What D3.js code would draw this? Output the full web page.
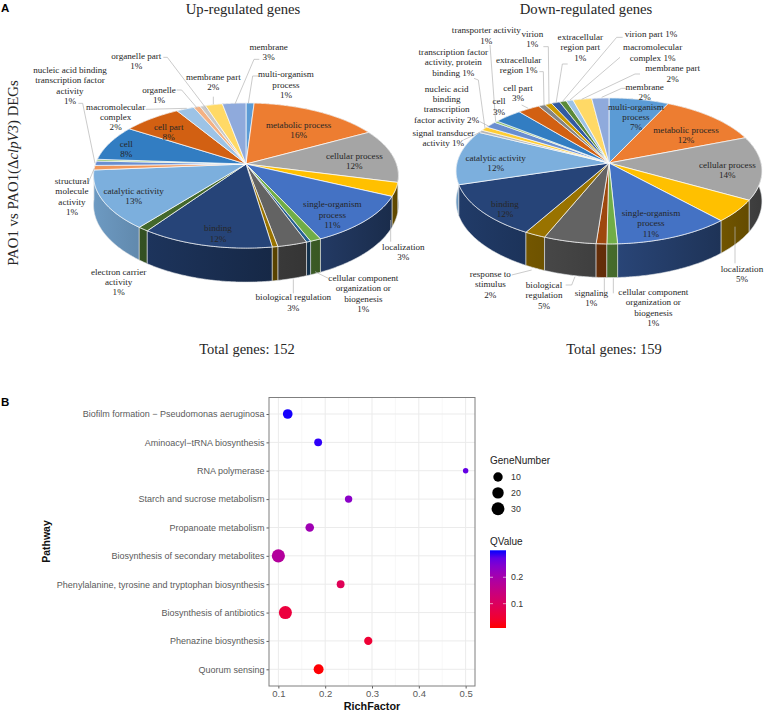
<!DOCTYPE html>
<html><head><meta charset="utf-8">
<script src="https://cdn.jsdelivr.net/npm/d3@7"></script>
<style>html,body{margin:0;padding:0;background:#fff}svg{display:block}</style>
</head><body><svg id="c" width="764" height="711"></svg>
<script>
// ---------- Data: up-regulated pie ----------
const upSliceNames = ["multi-organism process","metabolic process","cellular process","localization","single-organism process","cellular component organization or biogenesis","other a","biological regulation","other b","binding","electron carrier activity","catalytic activity","structural molecule activity","nucleic acid binding transcription factor activity","other c","cell","cell part","macromolecular complex","organelle","organelle part","membrane part","membrane"];
const upSliceValues = [1,16,12,3,11,1,0.4,2.7,0.5,12,1,13,1,1,0.4,8,7.2,2.2,0.8,0.7,2.1,2.9];
const upSliceColors = ["#5B9BD5","#ED7D31","#A5A5A5","#FFC000","#4472C4","#70AD47","#255E91","#636363","#997300","#264478","#43682B","#7CAFDD","#F1975A","#698ED0","#8CC168","#327DC2","#D26012","#9DC3E6","#F4B183","#C9C9C9","#FFD966","#8FAADC"];
const upLabelLines = [["membrane","3%"],["multi-organism","process","1%"],["membrane part","2%"],["organelle part","1%"],["nucleic acid binding","transcription factor","activity","1%"],["organelle","1%"],["macromolecular","complex","2%"],["cell part","8%"],["cell","8%"],["metabolic process","16%"],["cellular process","12%"],["single-organism","process","11%"],["catalytic activity","13%"],["binding","12%"],["structural","molecule","activity","1%"],["electron carrier","activity","1%"],["biological regulation","3%"],["cellular component","organization or","biogenesis","1%"],["localization","3%"]];
// ---------- Data: down-regulated pie ----------
const downSliceNames = ["multi-organism process","metabolic process","cellular process","localization","single-organism process","cellular component organization or biogenesis","signaling","biological regulation","response to stimulus","binding","catalytic activity","other","signal transducer activity","nucleic acid binding transcription factor activity","transcription factor activity, protein binding","cell","cell part","extracellular region","virion","extracellular region part","virion part","macromolecular complex","membrane part","membrane"];
const downSliceValues = [7,12,14,5,11,1,1,5,2,12,12,0.6,0.9,1.4,0.4,3.3,2.6,0.8,0.8,1,0.8,0.8,2.2,2];
const downSliceColors = ["#5B9BD5","#ED7D31","#A5A5A5","#FFC000","#4472C4","#70AD47","#9E480E","#636363","#997300","#264478","#7CAFDD","#B7B7B7","#FFCD33","#698ED0","#8CC168","#327DC2","#D26012","#848484","#CC9A00","#335AA1","#5A8A39","#9DC3E6","#FFD966","#8FAADC"];
const downLabelLines = [["transporter activity","1%"],["virion","1%"],["extracellular","region part","1%"],["virion part 1%"],["macromolecular","complex 1%"],["membrane part","2%"],["membrane","2%"],["transcription factor","activity, protein","binding 1%"],["extracellular","region 1%"],["cell part","3%"],["cell","3%"],["nucleic acid","binding","transcription","factor activity 2%"],["signal transducer","activity 1%"],["multi-organism","process","7%"],["metabolic process","12%"],["cellular process","14%"],["catalytic activity","12%"],["binding","12%"],["single-organism","process","11%"],["localization","5%"],["response to","stimulus","2%"],["biological","regulation","5%"],["signaling","1%"],["cellular component","organization or","biogenesis","1%"]];
// ---------- Data: bubble chart ----------
const pathways = ["Biofilm formation − Pseudomonas aeruginosa","Aminoacyl−tRNA biosynthesis","RNA polymerase","Starch and sucrose metabolism","Propanoate metabolism","Biosynthesis of secondary metabolites","Phenylalanine, tyrosine and tryptophan biosynthesis","Biosynthesis of antibiotics","Phenazine biosynthesis","Quorum sensing"];
const richFactor = [0.12,0.185,0.5,0.25,0.167,0.1,0.233,0.115,0.292,0.186];
const geneNumber = [11,5,2,4,7,32,5,31,6,12];
const qValue = [0.3,0.295,0.27,0.235,0.21,0.18,0.09,0.06,0.05,0.01];
const sizeLegendValues = [10,20,30];
const colorLegendTicks = [0.2,0.1];
const richTicks = [0.1,0.2,0.3,0.4,0.5];

// ---------- Layout (page px, separate from the data) ----------
const upLabelAnchor = [[806,141],[858,223],[640,230],[409,168],[210,210],[477,269],[347,320],[506,381],[379,432],[896,375],[1063,468],[997,613],[401,572],[654,685],[216,543],[356,815],[880,892],[1090,834],[1210,741]];
const downLabelAnchor = [[259,91],[397,102],[541,111],[753,103],[758,142],[818,205],[734,261],[160,156],[356,179],[354,264],[297,304],[140,266],[130,399],[708,320],[858,389],[982,495],[287,474],[315,611],[753,639],[1026,806],[271,822],[432,855],[574,878],[760,876]];
const upLeaders = [[[490,172],[502,172],[622,330]],[[235,310],[248,310],[285,490]],[[530,270],[545,270],[592,325]],[[437,328],[560,325]],[[640,290],[640,313]],[[778,178],[762,178],[705,312]],[[775,228],[758,228],[745,310]],[[283,505],[265,548]],[[880,838],[880,880]],[[945,815],[985,835]],[[1172,660],[1172,725]]];
const downLeaders = [[[270,135],[287,365]],[[430,140],[445,140],[447,312]],[[503,192],[487,192],[468,310]],[[668,112],[650,112],[487,305]],[[660,172],[510,300]],[[720,222],[705,222],[545,298]],[[680,265],[665,265],[605,292]],[[222,235],[235,240],[255,385]],[[418,215],[430,215],[432,315]],[[365,315],[385,325]],[[240,365],[265,378]],[[190,420],[240,397]],[[1005,680],[1005,790]],[[335,825],[395,810]],[[497,855],[515,855],[525,830]],[[613,835],[613,880]],[[640,835],[640,880]]];

const svg = d3.select("#c");
const SERIF = "'Liberation Serif',serif", SANS = "'Liberation Sans',sans-serif";

function drawPie(o){
  const g = svg.append("g");
  const pieGen = d3.pie().sort(null).value(d=>d.v);
  const items = o.values.map((v,i)=>({v,c:o.colors[i],n:o.names[i]}));
  const arcs = pieGen(items);
  const proj = a=>{
    const u=Math.sin(a), v=-Math.cos(a), s=1/(1-o.p*v);
    return {x:o.cx+o.rx*u*s, y:o.cy+o.ry*v*s, s, u};
  };
  const rim = (a0,a1)=>d3.range(0,Math.ceil((a1-a0)/0.01)+1).map(i=>proj(Math.min(a1,a0+i*0.01)));
  const line = d3.line().x(d=>d[0]).y(d=>d[1]);
  const defs = svg.append("defs");
  const shade = (c,u)=>{const k=0.62-0.26*u, q=d3.rgb(c);return d3.rgb(q.r*k,q.g*k,q.b*k).formatHex();};
  const order = arcs.map((a,i)=>({a,i,mid:-Math.cos((a.startAngle+a.endAngle)/2)})).sort((p,q)=>p.mid-q.mid);
  order.forEach(({a,i})=>{
    const id=o.id+"w"+i;
    const r=rim(a.startAngle,a.endAngle);
    const ul=d3.min(r,p=>p.u), ur=d3.max(r,p=>p.u);
    const lg=defs.append("linearGradient").attr("id",id).attr("x1",0).attr("x2",1).attr("y1",0).attr("y2",0);
    lg.append("stop").attr("offset",0).attr("stop-color",shade(a.data.c,ul));
    lg.append("stop").attr("offset",1).attr("stop-color",shade(a.data.c,ur));
    const top=r.map(p=>[p.x,p.y]);
    const bot=r.slice().reverse().map(p=>[p.x,p.y+o.depth*p.s]);
    g.append("path").attr("d",line(top.concat(bot))+"Z").attr("fill",`url(#${id})`)
      .attr("stroke","#dfe3e6").attr("stroke-width",0.6);
  });
  arcs.forEach(a=>{
    const r=rim(a.startAngle,a.endAngle).map(p=>[p.x,p.y]);
    g.append("path").attr("d",line([[o.cx,o.cy]].concat(r))+"Z").attr("fill",a.data.c)
      .attr("stroke","#fff").attr("stroke-width",0.7).attr("stroke-linejoin","round");
  });
  o.leaders.forEach(l=>{
    g.append("path").attr("d",line(l.map(p=>[o.ox+p[0]/3,p[1]/3]))).attr("fill","none")
      .attr("stroke","#b4b4b4").attr("stroke-width",0.7);
  });
  o.labels.forEach((lines,i)=>{
    const [zx,zy]=o.anchors[i];
    const t=g.append("text").attr("font-family",SERIF).attr("font-size",o.fs).attr("fill","#262626").attr("text-anchor","middle");
    lines.forEach((s,j)=>{
      t.append("tspan").attr("x",o.ox+zx/3).attr("y",zy/3+3+j*10.4).text(s);
    });
  });
}
drawPie({id:"u",cx:246,cy:164,rx:150.5,ry:70.7,p:0.159,depth:28.6,values:upSliceValues,colors:upSliceColors,names:upSliceNames,labels:upLabelLines,anchors:upLabelAnchor,leaders:upLeaders,ox:0,fs:9.1});
drawPie({id:"d",cx:609,cy:163,rx:152,ry:72.1,p:0.109,depth:30,values:downSliceValues,colors:downSliceColors,names:downSliceNames,labels:downLabelLines,anchors:downLabelAnchor,leaders:downLeaders,ox:400,fs:9.1});

const txt=(x,y,s,fs,fam,anchor="middle",w="normal",fill="#262626")=>svg.append("text").attr("x",x).attr("y",y).attr("font-size",fs).attr("font-family",fam).attr("text-anchor",anchor).attr("font-weight",w).attr("fill",fill).text(s);
txt(243,13.5,"Up-regulated genes",14.7,SERIF);
txt(586,13.5,"Down-regulated genes",14.7,SERIF);
txt(247,354,"Total genes: 152",14.5,SERIF);
txt(614,354,"Total genes: 159",14.5,SERIF);
txt(1,12,"A",11.5,SANS,"start","bold","#000");
txt(1,406,"B",11.5,SANS,"start","bold","#000");
const yl=svg.append("text").attr("transform","translate(18,173) rotate(-90)").attr("text-anchor","middle").attr("font-family",SERIF).attr("font-size",14.8).attr("fill","#262626");
yl.append("tspan").text("PAO1 vs PAO1(Δ");
yl.append("tspan").attr("font-style","italic").text("clpV3");
yl.append("tspan").text(") DEGs");

const L=269,R=475,T=397.5,B=686;
const x=d3.scaleLinear().domain([0.08,0.52]).range([L,R]);
const y=d3.scalePoint().domain(pathways).range([414,669.3]);
const r=d3.scaleSqrt().domain([0,30]).range([2.7,6.6]);
const colorQ=d3.scaleLinear().domain([0.008,0.302]).range(["#ff0000","#0000ff"]).interpolate(d3.interpolateLab);
const b=svg.append("g");
const minor=[0.15,0.25,0.35,0.45];
b.selectAll("line.mi").data(minor).join("line").attr("x1",d=>x(d)).attr("x2",d=>x(d)).attr("y1",T).attr("y2",B).attr("stroke","#f2f2f2").attr("stroke-width",0.6);
b.selectAll("line.mx").data(richTicks).join("line").attr("x1",d=>x(d)).attr("x2",d=>x(d)).attr("y1",T).attr("y2",B).attr("stroke","#ebebeb").attr("stroke-width",1);
b.selectAll("line.my").data(pathways).join("line").attr("x1",L).attr("x2",R).attr("y1",d=>y(d)).attr("y2",d=>y(d)).attr("stroke","#ebebeb").attr("stroke-width",1);
const ax=d3.axisBottom(x).tickValues(richTicks).tickFormat(d3.format(".1f")).tickSize(2.5).tickPadding(2);
const ay=d3.axisLeft(y).tickSize(2.5).tickPadding(2);
const gx=b.append("g").attr("transform",`translate(0,${B})`).call(ax);
const gy=b.append("g").attr("transform",`translate(${L},0)`).call(ay);
[gx,gy].forEach(g=>{g.select(".domain").remove();g.selectAll("line").attr("stroke","#333").attr("stroke-width",0.8);
  g.selectAll("text").attr("font-family",SANS).attr("font-size",9).attr("fill","#5a5a5a");});
gx.selectAll("text").attr("font-size",9.5);
b.selectAll("circle.p").data(pathways).join("circle").attr("cx",(d,i)=>x(richFactor[i])).attr("cy",d=>y(d)).attr("r",(d,i)=>r(geneNumber[i]-2)).attr("fill",(d,i)=>colorQ(qValue[i]));
b.append("rect").attr("x",L).attr("y",T).attr("width",R-L).attr("height",B-T).attr("fill","none").attr("stroke","#7f7f7f").attr("stroke-width",1);
txt(372,710,"RichFactor",10.8,SANS,"middle","bold","#111");
svg.append("text").attr("transform","translate(50,541.5) rotate(-90)").attr("text-anchor","middle").attr("font-family",SANS).attr("font-size",10.5).attr("font-weight","bold").attr("fill","#111").text("Pathway");
txt(490,464,"GeneNumber",10,SANS,"start","normal","#222");
const ly=d3.scalePoint().domain(sizeLegendValues).range([477,508.7]);
sizeLegendValues.forEach(v=>{
  svg.append("circle").attr("cx",498).attr("cy",ly(v)).attr("r",r(v-2)).attr("fill","#000");
  txt(511,ly(v)+3,v,8.8,SANS,"start","normal","#333");
});
txt(490,545,"QValue",10,SANS,"start","normal","#222");
const barY=d3.scaleLinear().domain([0.008,0.302]).range([628,550.3]);
const qg=svg.append("defs").append("linearGradient").attr("id","qbar").attr("x1",0).attr("x2",0).attr("y1",1).attr("y2",0);
d3.range(0,1.001,0.1).forEach(t=>qg.append("stop").attr("offset",t).attr("stop-color",colorQ(0.008+t*0.294)));
svg.append("rect").attr("x",490).attr("y",550.3).attr("width",16).attr("height",77.7).attr("fill","url(#qbar)");
colorLegendTicks.forEach(v=>{
  svg.append("line").attr("x1",490).attr("x2",493).attr("y1",barY(v)).attr("y2",barY(v)).attr("stroke","#fff").attr("stroke-width",0.6);
  svg.append("line").attr("x1",503).attr("x2",506).attr("y1",barY(v)).attr("y2",barY(v)).attr("stroke","#fff").attr("stroke-width",0.6);
  txt(511,barY(v)+3,v.toFixed(1),8.8,SANS,"start","normal","#333");
});
</script></body></html>
